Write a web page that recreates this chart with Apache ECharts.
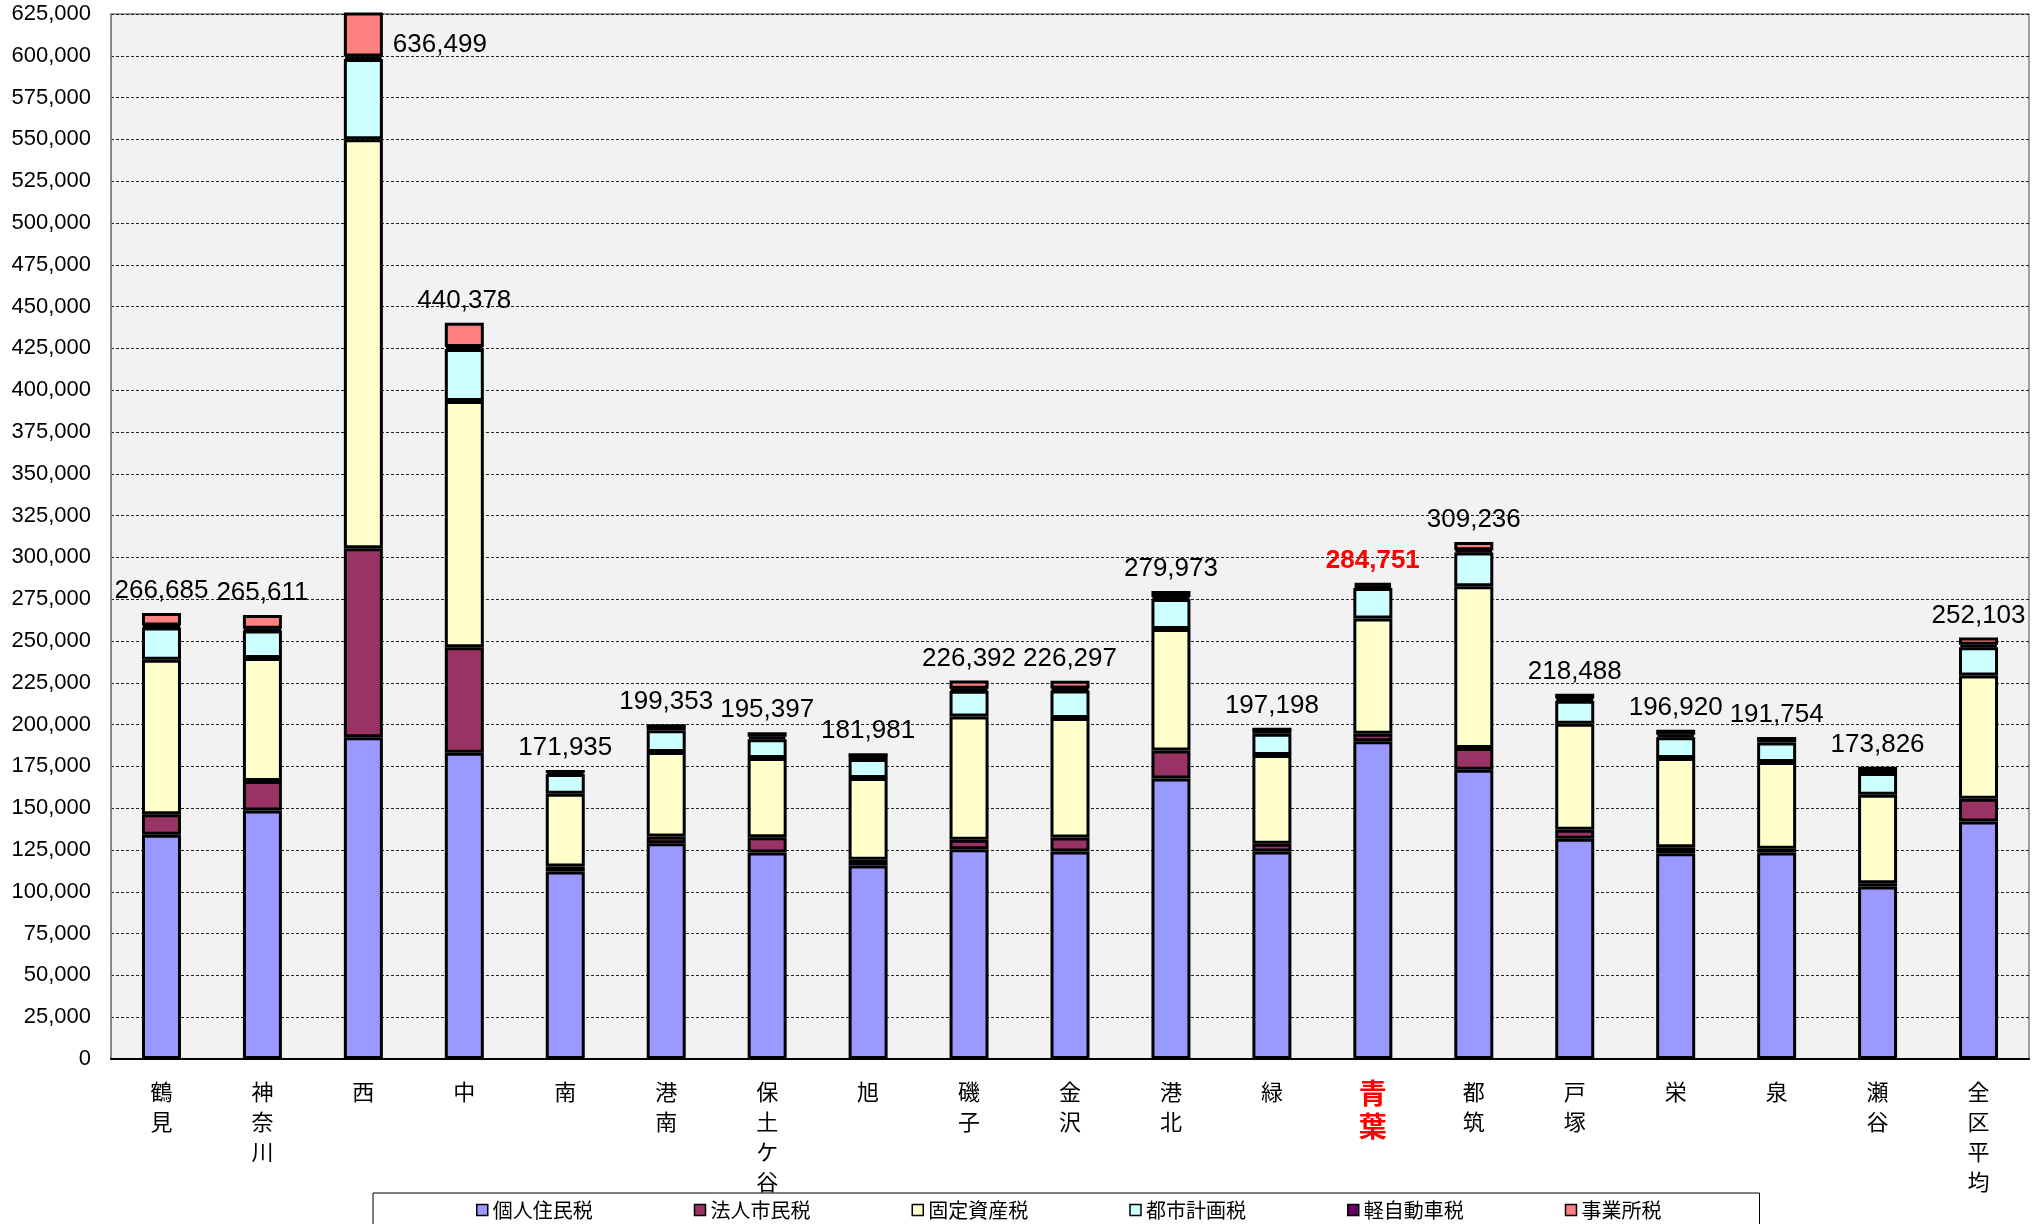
<!DOCTYPE html>
<html>
<head>
<meta charset="utf-8">
<script src="https://cdn.jsdelivr.net/npm/echarts@6/dist/echarts.min.js"></script>
<style>
html,body{margin:0;padding:0;background:#fff;}
#chart{width:2038px;height:1224px;}
</style>
</head>
<body>
<div id="chart"></div>
<script>
const categories = ['鶴見','神奈川','西','中','南','港南','保土ケ谷','旭','磯子','金沢','港北','緑','青葉','都筑','戸塚','栄','泉','瀬谷','全区平均'];
const seriesNames = ['個人住民税','法人市民税','固定資産税','都市計画税','軽自動車税','事業所税'];
const kojin = [134100,148600,192500,183100,112100,129100,123500,115700,125500,124100,167800,124100,190100,173000,131700,123100,123500,103100,142000];
const hojin = [12300,17600,113000,63100,3000,3900,9200,3400,5600,8400,16700,4600,4400,13000,5400,3600,2200,2000,13600];
const kotei = [92400,73600,244600,147400,43500,50600,47300,48900,73800,71400,72700,53100,69000,96700,63400,53300,51900,52900,73800];
const toshi = [19300,16500,48000,31000,11800,13000,11300,11500,15300,16500,17900,12800,18200,20300,13800,12500,11700,13100,16800];
const kei = [1100,1000,1500,1300,1535,2753,1500,2481,1200,1200,1200,2598,1500,1300,1300,1500,2454,2726,1500];
const jigyo = [7485,8311,36899,14478,0,0,2597,0,4992,4697,3673,0,1551,4936,2888,2920,0,0,4403];
const totals = [266685,265611,636499,440378,171935,199353,195397,181981,226392,226297,279973,197198,284751,309236,218488,196920,191754,173826,252103];
const yMin = 0, yMax = 625000, yStep = 25000;

const colors = ['#9999FF','#993366','#FFFFCC','#CCFFFF','#660066','#FF8080'];
const values = [kojin, hojin, kotei, toshi, kei, jigyo];
const highlight = '青葉';

const fmt = v => Number(v).toLocaleString('en-US');

const series = values.map((arr, si) => {
  const isTop = si === values.length - 1;
  const data = arr.map((v, i) => {
    if (!isTop) return v;
    const item = { value: v };
    if (totals[i] > yMax) {
      item.label = { position: 'right', distance: 10, offset: [0, 10] };
    }
    if (categories[i] === highlight) {
      item.label = { color: '#FF0000', fontWeight: 'bold' };
    }
    return item;
  });
  return {
    name: seriesNames[si],
    type: 'bar',
    stack: 'total',
    barWidth: 39,
    clip: true,
    itemStyle: { color: colors[si], borderColor: '#000', borderWidth: 3 },
    emphasis: { disabled: true },
    data: data,
    label: isTop ? {
      show: true,
      position: 'top',
      distance: 9,
      color: '#000',
      fontSize: 26,
      fontFamily: 'Liberation Sans',
      formatter: p => fmt(totals[p.dataIndex])
    } : { show: false }
  };
});

const chart = echarts.init(document.getElementById('chart'), null, { renderer: 'canvas' });
chart.setOption({
  animation: false,
  backgroundColor: '#fff',
  color: colors,
  grid: { left: 111, right: 9, top: 14, bottom: 165, show: true, backgroundColor: '#F2F2F2', borderColor: '#808080', borderWidth: 1.5 },
  legend: {
    left: 373, top: 1193,
    padding: [7, 98, 20, 103],
    borderColor: '#000', borderWidth: 1, backgroundColor: '#fff',
    itemWidth: 11, itemHeight: 11, itemGap: 101,
    icon: 'rect',
    itemStyle: { borderColor: '#000', borderWidth: 1.5 },
    textStyle: { fontSize: 20, color: '#000', fontFamily: 'Noto Sans CJK JP' },
    data: seriesNames
  },
  xAxis: {
    type: 'category',
    data: categories.map(c => c === highlight ? { value: c, textStyle: { color: '#FF0000', fontWeight: 'bold', fontSize: 28, lineHeight: 33 } } : c),
    axisLine: { lineStyle: { color: '#000', width: 2 } },
    axisTick: { inside: true, length: 6, lineStyle: { color: '#000', width: 1.5 } },
    axisLabel: {
      interval: 0,
      margin: 18,
      fontSize: 22,
      lineHeight: 30,
      color: '#000',
      fontFamily: 'Noto Sans CJK JP',
      formatter: v => v.split('').join('\n')
    },
    splitLine: { show: false }
  },
  yAxis: {
    type: 'value',
    min: yMin, max: yMax, interval: yStep,
    axisLine: { show: true, lineStyle: { color: '#808080', width: 1.5 } },
    axisTick: { show: false },
    axisLabel: { formatter: v => fmt(v), fontSize: 22, color: '#000', fontFamily: 'Liberation Sans', margin: 20 },
    splitLine: { lineStyle: { color: '#222', type: [3, 2], width: 1 } }
  },
  series: series
});
</script>
</body>
</html>
